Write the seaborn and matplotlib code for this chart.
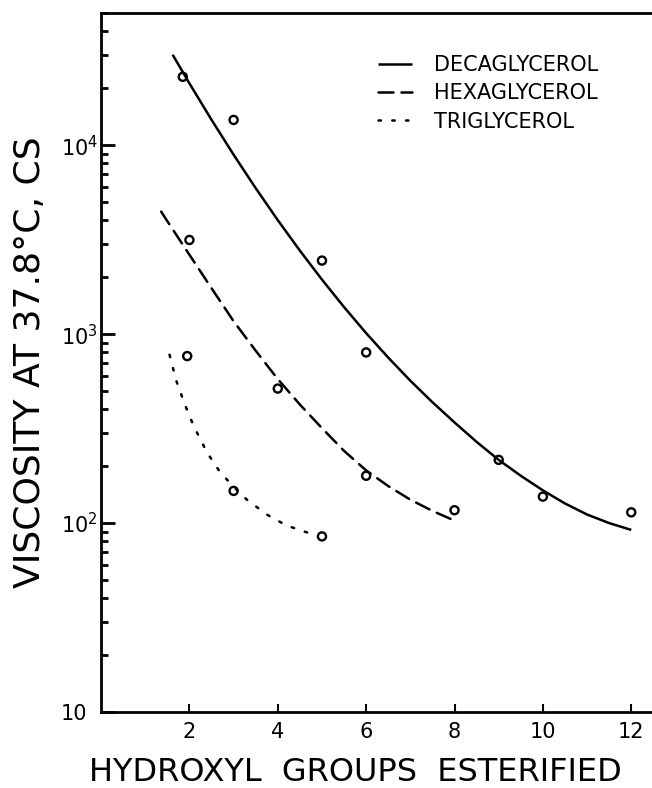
import numpy as np
import pandas as pd
import matplotlib
matplotlib.use("Agg")
import matplotlib.pyplot as plt
import seaborn as sns

sns.set_theme(style="ticks")
plt.rcParams['font.family'] = ['DejaVu Sans']
plt.rcParams.update({"text.color": "black", "axes.labelcolor": "black",
                     "xtick.color": "black", "ytick.color": "black"})

# measured points
DECA_X = [1.85, 3, 5, 6, 9, 10, 12]
DECA_Y = [23000, 13600, 2450, 800, 216, 138, 114]
HEXA_X = [2, 4, 6, 8]
HEXA_Y = [3150, 515, 178, 117]
TRI_X = [1.95, 3, 5]
TRI_Y = [765, 148, 85]

# smooth curves
DECA_CX = [1.62, 2.0, 2.5, 3.0, 3.5, 4.0, 4.5, 5.0, 5.5, 6.0, 6.5, 7.0,
           7.5, 8.0, 8.5, 9.0, 9.5, 10.0, 10.5, 11.0, 11.5, 12.0]
DECA_CY = [30100, 21230, 13630, 8900, 5920, 4010, 2767, 1943, 1390, 1012,
           751, 567, 436, 341, 269, 216, 178, 149, 127, 111, 100, 92]
HEXA_CX = [1.36, 1.5, 2.0, 2.5, 3.0, 3.5, 4.0, 4.5, 5.0, 5.5, 6.0, 6.5,
           7.0, 7.5, 8.0]
HEXA_CY = [4450, 3960, 2630, 1750, 1170, 817, 578, 424, 318, 241, 190,
           157, 133, 116, 103]
TRI_CX = [1.55, 1.7, 1.9, 2.1, 2.4, 2.7, 3.0, 3.3, 3.75, 4.2, 4.77]
TRI_CY = [778, 569, 422, 325, 236, 185, 156, 133, 111, 97, 87.5]

LABELS = ["DECAGLYCEROL", "HEXAGLYCEROL", "TRIGLYCEROL"]

fig = plt.figure(figsize=(6.52, 7.88), dpi=100)
ax = fig.add_axes([0.155, 0.0964, 0.845, 0.887])

styles = ["-", (0, (6, 3.2)), (0, (1, 4.5))]
curves = [(DECA_CX, DECA_CY), (HEXA_CX, HEXA_CY), (TRI_CX, TRI_CY)]
for (cx, cy), ls, lab in zip(curves, styles, LABELS):
    df = pd.DataFrame({"x": cx, "y": cy})
    sns.lineplot(data=df, x="x", y="y", ax=ax, color="black", lw=1.8,
                 linestyle=ls, label=lab, sort=False,
                 solid_capstyle="butt", dash_capstyle="round")

for px, py in [(DECA_X, DECA_Y), (HEXA_X, HEXA_Y), (TRI_X, TRI_Y)]:
    sns.scatterplot(x=px, y=py, ax=ax, marker="o", s=34,
                    facecolor="none", edgecolor="black", linewidth=1.7,
                    zorder=5)

ax.set_yscale("log")
ax.set_ylim(10, 50000)
ax.set_xlim(0, 12.47)
ax.set_xticks([2, 4, 6, 8, 10, 12])
ax.set_xticklabels(["2", "4", "6", "8", "10", "12"])
ax.set_yticks([10, 100, 1000, 10000])
ax.set_yticklabels(["10", "$10^2$", "$10^3$", "$10^4$"])
ax.yaxis.set_minor_locator(matplotlib.ticker.LogLocator(base=10, subs=np.arange(2, 10)))
ax.yaxis.set_minor_formatter(matplotlib.ticker.NullFormatter())

ax.tick_params(axis="y", which="major", direction="in", length=10, width=2,
               labelsize=15, pad=29)
ax.tick_params(axis="y", which="minor", direction="in", length=5, width=2)
ax.tick_params(axis="x", which="major", direction="in", length=6, width=1.5,
               labelsize=15, pad=7)
for t in ax.get_yticklabels():
    t.set_horizontalalignment("left")

for side in ["left", "bottom", "top"]:
    ax.spines[side].set_linewidth(2)
    ax.spines[side].set_color("black")
ax.spines["right"].set_visible(False)

ax.set_xlabel("HYDROXYL  GROUPS  ESTERIFIED", fontsize=23)
ax.set_ylabel("VISCOSITY AT 37.8°C, CS", fontsize=26)
ax.xaxis.set_label_coords(0.461, -0.064)
ax.yaxis.set_label_coords(-0.098, 0.5)

ax.legend(loc="upper left", bbox_to_anchor=(0.503, 0.94), frameon=False,
          fontsize=15, handlelength=1.6, handletextpad=1.1, labelspacing=0.4,
          borderpad=0, borderaxespad=0)

fig.savefig("out.png", dpi=100)
